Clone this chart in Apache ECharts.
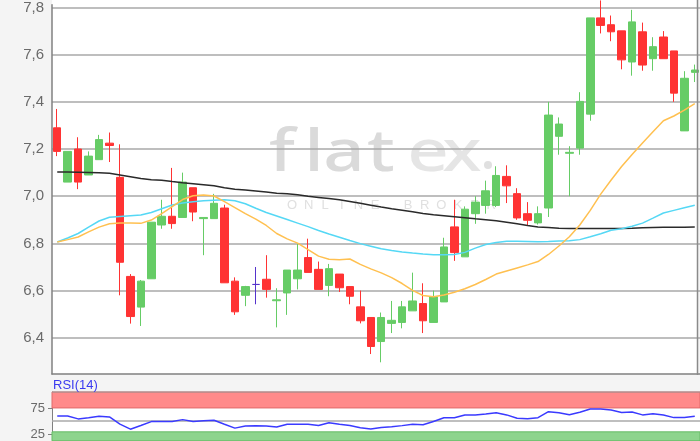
<!DOCTYPE html>
<html>
<head>
<meta charset="utf-8">
<script src="https://cdn.jsdelivr.net/npm/echarts@6/dist/echarts.min.js"></script>
<style>html,body{margin:0;padding:0;background:#f4f4f4}#c{width:700px;height:441px}</style>
</head>
<body>
<div id="c"></div>
<script>
// ---- data ----
// each candle: [open, close, low, high]
const ohlc = [
 [7.29,7.19,7.17,7.37],[7.06,7.19,7.06,7.19],[7.20,7.06,7.03,7.25],[7.09,7.17,7.09,7.19],
 [7.155,7.24,7.155,7.26],[7.225,7.215,7.145,7.27],[7.08,6.72,6.58,7.22],[6.66,6.49,6.46,6.67],
 [6.53,6.64,6.45,6.645],[6.65,6.89,6.65,6.89],[6.878,6.915,6.862,6.985],[6.915,6.884,6.862,7.12],
 [6.91,7.06,6.91,7.10],[7.036,6.933,6.894,7.036],[6.905,6.91,6.75,6.91],[6.905,6.97,6.905,7.01],
 [6.95,6.633,6.633,6.964],[6.64,6.51,6.497,6.656],[6.58,6.617,6.534,6.62],[6.626,6.626,6.542,6.70],
 [6.648,6.605,6.57,6.75],[6.557,6.561,6.444,6.61],[6.59,6.687,6.497,6.687],[6.65,6.687,6.605,6.80],
 [6.74,6.677,6.677,6.82],[6.69,6.605,6.605,6.723],[6.622,6.693,6.576,6.713],[6.67,6.612,6.594,6.67],
 [6.617,6.576,6.542,6.617],[6.531,6.472,6.461,6.60],[6.486,6.363,6.331,6.486],[6.384,6.486,6.296,6.507],
 [6.461,6.474,6.42,6.556],[6.465,6.531,6.44,6.556],[6.514,6.556,6.514,6.676],[6.545,6.472,6.42,6.631],
 [6.465,6.573,6.465,6.60],[6.552,6.785,6.552,6.824],[6.87,6.761,6.726,6.985],[6.743,6.945,6.743,6.957],
 [6.926,6.975,6.883,7.0],[6.961,7.023,6.926,7.066],[6.961,7.088,6.954,7.127],[7.084,7.044,6.971,7.131],
 [7.011,6.908,6.90,7.034],[6.926,6.898,6.876,6.975],[6.887,6.926,6.88,6.957],[6.95,7.344,6.912,7.40],
 [7.254,7.306,7.176,7.334],[7.182,7.186,7.00,7.212],[7.204,7.402,7.176,7.441],[7.348,7.756,7.32,7.756],
 [7.756,7.724,7.69,7.83],[7.727,7.697,7.657,7.766],[7.701,7.578,7.538,7.701],[7.569,7.739,7.511,7.79],
 [7.697,7.556,7.532,7.736],[7.583,7.634,7.532,7.674],[7.675,7.583,7.583,7.70],[7.616,7.437,7.40,7.616],
 [7.277,7.50,7.277,7.53],[7.525,7.535,7.484,7.558]
];
const maLong = [7.103,7.103,7.102,7.101,7.099,7.097,7.090,7.083,7.075,7.070,7.068,7.062,7.057,7.053,7.049,7.044,
 7.036,7.030,7.026,7.022,7.018,7.013,7.010,7.006,7.000,6.995,6.990,6.985,6.978,6.970,6.962,6.954,
 6.947,6.941,6.934,6.927,6.921,6.917,6.913,6.909,6.904,6.900,6.896,6.890,6.883,6.876,6.870,6.867,
 6.864,6.863,6.863,6.863,6.863,6.863,6.863,6.864,6.866,6.867,6.868,6.869,6.869,6.870];
const maMid = [6.806,6.823,6.842,6.869,6.895,6.911,6.914,6.917,6.920,6.931,6.947,6.963,6.971,6.977,6.981,6.983,
 6.985,6.981,6.968,6.949,6.931,6.916,6.901,6.886,6.871,6.855,6.840,6.826,6.812,6.799,6.788,6.777,
 6.770,6.764,6.759,6.755,6.752,6.752,6.753,6.762,6.780,6.795,6.804,6.809,6.809,6.808,6.807,6.808,
 6.810,6.811,6.816,6.828,6.841,6.856,6.862,6.873,6.886,6.907,6.929,6.940,6.951,6.962];
const maShort = [6.806,6.816,6.827,6.849,6.869,6.883,6.886,6.886,6.885,6.899,6.926,6.956,6.986,7.002,7.005,7.001,
 6.977,6.952,6.926,6.903,6.876,6.842,6.819,6.801,6.774,6.746,6.733,6.731,6.734,6.711,6.692,6.675,
 6.655,6.630,6.601,6.579,6.574,6.581,6.593,6.608,6.626,6.647,6.670,6.683,6.696,6.709,6.723,6.753,
 6.789,6.828,6.878,6.940,7.009,7.069,7.126,7.177,7.226,7.273,7.320,7.340,7.365,7.393];
const rsi = [60,60,54.4,56.5,59.2,58,44.5,35,42,49.3,49.3,49.3,53,49.5,50.8,51.7,
 44.3,37,41,41.5,41,39,44.4,44.4,44.4,41.8,47.3,44.5,41.8,37.6,35.5,38.2,
 39.4,41.7,44.3,43.2,49.5,56.6,56.5,61.8,61.8,63.6,66.1,61.9,55.6,54.5,56.7,68,
 66,62.1,66.8,73.1,73.1,71,66.5,67.3,61.9,64.1,61.8,56.8,56.9,59.3];
const categories = ohlc.map((_, i) => String(i + 1));
const priceTicks = [6.4, 6.6, 6.8, 7.0, 7.2, 7.4, 7.6, 7.8];
const rsiTicks = [25, 75];
const rsiBands = { high: [75, 105], low: [13, 30], mid: 50 };

// ---- chart ----
const chart = echarts.init(document.getElementById('c'), null, {renderer: 'canvas'});
const fmt = v => v.toFixed(1).replace('.', ',');

const watermark = [];
const wmLetters = [['f',282,'#dadada'],['l',314,'#dadada'],['a',344,'#dadada'],['t',381,'#dadada'],['e',428,'#e5e5e5'],['x',462,'#e5e5e5']];
wmLetters.forEach(([ch, x, col]) => watermark.push({
  type: 'text', z: -5, x: x, y: 183, scaleX: 1.25,
  style: {text: ch, fill: col, font: '500 58px "Noto Sans"', textAlign: 'center', textVerticalAlign: 'bottom'}
}));
watermark.push({type: 'circle', z: -5, shape: {cx: 488, cy: 165, r: 4}, style: {fill: '#e0e0e0'}});
'ONLINE BROKER'.split('').forEach((ch, i) => {
  if (ch === ' ') return;
  watermark.push({type: 'text', z: -5, x: 292 + i * 16.6, y: 205,
    style: {text: ch, fill: '#e0e0e0', font: '13px "Liberation Sans"', textAlign: 'center', textVerticalAlign: 'middle'}});
});

const option = {
  backgroundColor: '#f4f4f4',
  animation: false,
  graphic: [
    {type: 'rect', z: -10, shape: {x: 52, y: 0, width: 646, height: 374}, style: {fill: '#ffffff'}},
    {type: 'rect', z: -10, shape: {x: 52, y: 392, width: 648, height: 49}, style: {fill: '#ffffff'}},
    ...watermark,
    {type: 'line', z: 100, shape: {x1: 697.5, y1: 0, x2: 697.5, y2: 375}, style: {stroke: '#8a8a8a', lineWidth: 1.5}},
    {type: 'line', z: 100, shape: {x1: 52, y1: 392, x2: 700, y2: 392}, style: {stroke: '#999', lineWidth: 1}},
    {type: 'text', z: 100, x: 53, y: 385.5, style: {text: 'RSI(14)', fill: '#3b3bf0', font: '13px "Liberation Sans"', textVerticalAlign: 'middle'}}
  ],
  grid: [
    {left: 52, right: 0, top: 0, height: 374},
    {left: 52, right: 0, top: 392, bottom: 0}
  ],
  xAxis: [
    {type: 'category', gridIndex: 0, data: categories, boundaryGap: true,
     axisLine: {show: true, lineStyle: {color: '#808080', width: 1.5}}, axisTick: {show: false}, axisLabel: {show: false}, splitLine: {show: false}},
    {type: 'category', gridIndex: 1, data: categories, boundaryGap: true,
     axisLine: {show: false}, axisTick: {show: false}, axisLabel: {show: false}, splitLine: {show: false}}
  ],
  yAxis: [
    {type: 'value', gridIndex: 0, min: 6.2464, max: 7.8113, scale: true,
     axisLine: {show: true, lineStyle: {color: '#808080', width: 1.5}},
     axisTick: {show: false, customValues: priceTicks},
     axisLabel: {customValues: priceTicks, formatter: fmt, color: '#6a6a6a', fontSize: 15, fontFamily: 'Liberation Sans', margin: 8},
     splitLine: {show: true, lineStyle: {color: '#a8a8a8', width: 1.5}}},
    {type: 'value', gridIndex: 1, min: 13, max: 105,
     axisLine: {show: true, lineStyle: {color: '#808080', width: 1}},
     axisTick: {show: true, customValues: rsiTicks, length: 4, lineStyle: {color: '#808080'}},
     axisLabel: {customValues: rsiTicks, color: '#6a6a6a', fontSize: 13, fontFamily: 'Liberation Sans', margin: 7},
     splitLine: {show: false}}
  ],
  series: [
    {type: 'candlestick', xAxisIndex: 0, yAxisIndex: 0, data: ohlc, barWidth: 8, z: 3,
     itemStyle: {color: '#66cc66', color0: '#ff3333', borderColor: '#66cc66', borderColor0: '#ff3333', borderColorDoji: '#5533cc', borderWidth: 1}},
    {type: 'line', xAxisIndex: 0, yAxisIndex: 0, data: maLong, showSymbol: false, z: 4,
     lineStyle: {color: '#2a2a2a', width: 1.5}},
    {type: 'line', xAxisIndex: 0, yAxisIndex: 0, data: maMid, showSymbol: false, z: 4,
     lineStyle: {color: '#55d8f5', width: 1.5}},
    {type: 'line', xAxisIndex: 0, yAxisIndex: 0, data: maShort, showSymbol: false, z: 4,
     lineStyle: {color: '#ffc050', width: 1.5}},
    {type: 'line', xAxisIndex: 1, yAxisIndex: 1, data: rsi, showSymbol: false, z: 5,
     lineStyle: {color: '#3a3aff', width: 1.5},
     markArea: {silent: true, data: [
       [{yAxis: rsiBands.high[0], itemStyle: {color: '#ff8a8a', borderColor: '#e06a6a', borderWidth: 1}}, {yAxis: rsiBands.high[1]}],
       [{yAxis: rsiBands.low[0], itemStyle: {color: '#8dd48d', borderColor: '#66bb66', borderWidth: 1}}, {yAxis: rsiBands.low[1]}]
     ]},
     markLine: {silent: true, symbol: 'none', label: {show: false},
       lineStyle: {color: '#aaaaaa', width: 1.5, type: 'solid'}, data: [{yAxis: rsiBands.mid}]}}
  ]
};
chart.setOption(option);
</script>
</body>
</html>
